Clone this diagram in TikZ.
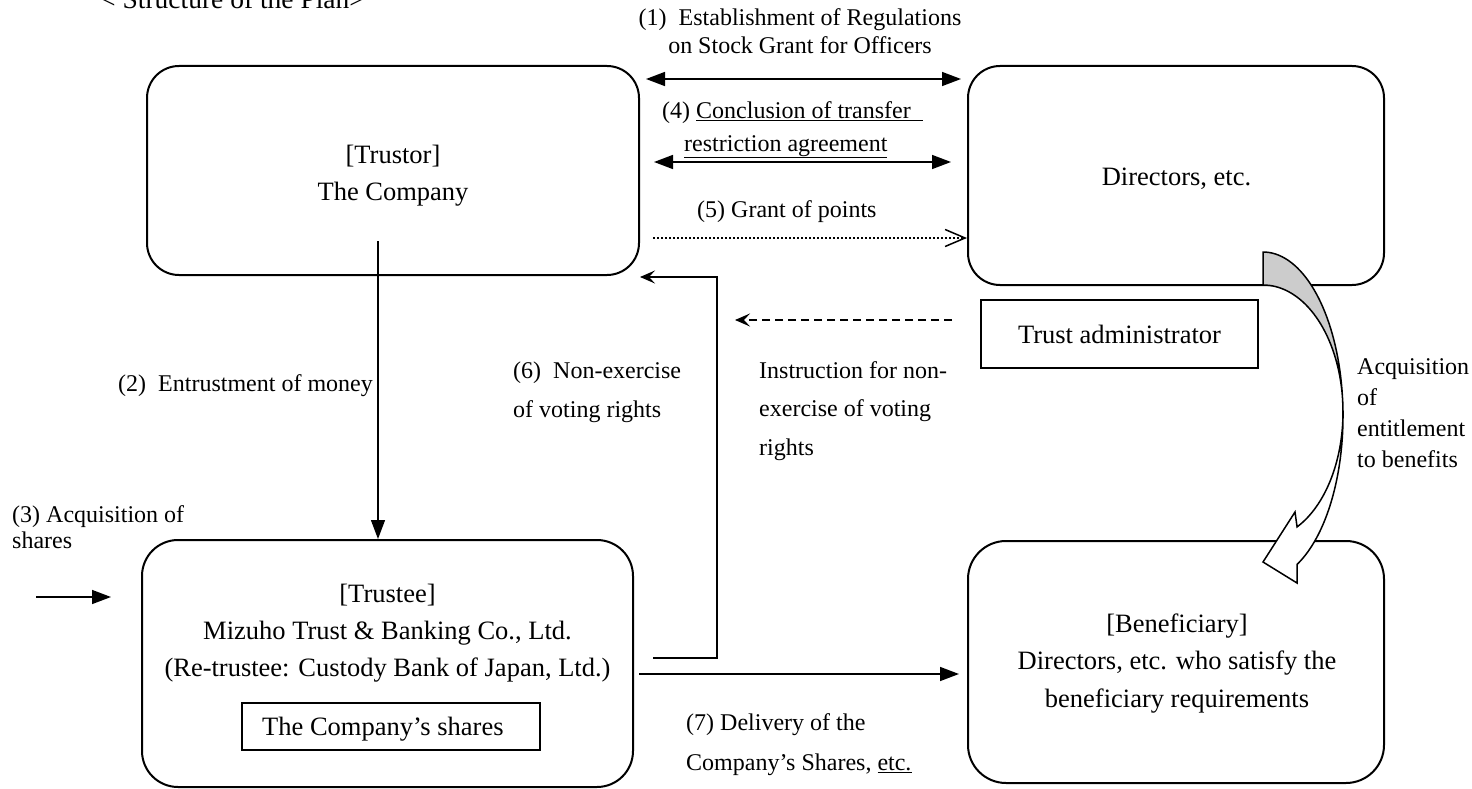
\documentclass[tikz,border=0pt]{standalone}
\usepackage{fontspec}
\setmainfont{Liberation Serif}
\usetikzlibrary{arrows.meta}
\begin{document}
\begin{tikzpicture}[x=1pt,y=-1pt,
  rbox/.style={draw,line width=2pt,rounded corners=32pt,inner sep=0pt},
  sbox/.style={draw,line width=2pt,inner sep=0pt},
  btxt/.style={inner sep=0pt,anchor=base,align=center,font=\fontsize{26.5}{37}\selectfont},
  lbl/.style={inner sep=0pt,anchor=base west,align=left,font=\fontsize{24}{30}\selectfont},
  conn/.style={line width=1.5pt},
  fat/.style={-{Triangle[length=19pt,width=14pt]}},
  dfat/.style={{Triangle[length=19pt,width=14pt]}-{Triangle[length=19pt,width=14pt]}},
  stl/.style={-{Stealth[length=15pt,width=13pt,inset=6pt]}},
  barb/.style={-{Straight Barb[length=20pt,width=17pt]}},
  dots/.style={dash pattern=on 2pt off 2pt},
  dashes/.style={dash pattern=on 8pt off 5pt}
]
\useasboundingbox (0,0) rectangle (1472,789);
\clip (0,0) rectangle (1472,789);

% boxes
\node[rbox,minimum width=492pt,minimum height=209pt] (trustor) at (393,170.5) {};
\node[rbox,minimum width=416pt,minimum height=219pt] (directors) at (1176,175.5) {};
\node[rbox,rounded corners=36pt,minimum width=491pt,minimum height=247pt] (trustee) at (387.5,663.5) {};
\node[rbox,rounded corners=38pt,minimum width=416pt,minimum height=242pt] (benef) at (1176,662) {};
\node[sbox,minimum width=277pt,minimum height=68pt] (admin) at (1119.5,334) {};
\node[sbox,line width=1.5pt,minimum width=298pt,minimum height=47pt] (shares) at (391,726.5) {};

% box texts (base anchor = baseline of the last line)
\node[btxt] (trustortxt) at (393,200) {[Trustor]\\The Company};
\node[btxt] (dirtxt) at (1176.5,185) {Directors, etc.};
\node[btxt] (admintxt) at (1119.5,343) {Trust administrator};
\node[btxt] (trusteetxt) at (387.5,676) {[Trustee]\\Mizuho Trust \& Banking Co., Ltd.\\(Re-trustee: Custody Bank of Japan, Ltd.)};
\node[btxt,anchor=base west] (sharestxt) at (262,735) {The Company’s shares};
\node[btxt,font=\fontsize{26.5}{37.5}\selectfont] (beneftxt) at (1177,707) {[Beneficiary]\\Directors, etc. who satisfy the\\beneficiary requirements};

% labels
\node[inner sep=0pt,anchor=base west,font=\fontsize{27.5}{30}\selectfont] (title) at (100,9) {< Structure of the Plan>};
\node[inner sep=0pt,anchor=base,align=center,font=\fontsize{24}{28}\selectfont] (l1) at (800,54) {(1)\ \ Establishment of Regulations\\on Stock Grant for Officers};
\node[lbl] (l4a) at (662,119) {(4) \underline{Conclusion of transfer\hspace*{12pt}}};
\node[lbl] (l4b) at (684,151) {\underline{restriction agreement}};
\node[lbl] (l5) at (697,217) {(5) Grant of points};
\node[lbl] (l2) at (118,391) {(2)\ \ Entrustment of money};
\node[lbl,font=\fontsize{24}{39}\selectfont] (l6) at (513,417) {(6)\ \ Non-exercise\\of voting rights};
\node[lbl,font=\fontsize{24}{38.5}\selectfont] (linst) at (759,455) {Instruction for non-\\exercise of voting\\rights};
\node[lbl,font=\fontsize{24}{31}\selectfont] (lacq) at (1357,467) {Acquisition\\of\\entitlement\\to benefits};
\node[lbl,font=\fontsize{24}{26}\selectfont] (l3) at (12,548) {(3) Acquisition of\\shares};
\node[lbl,font=\fontsize{24}{40}\selectfont] (l7) at (686,770) {(7) Delivery of the\\Company’s Shares, \underline{etc.}};

% connectors
\draw[conn,dfat,shorten <=6pt,shorten >=6pt] (trustor.east |- 0,79) -- (directors.west |- 0,79);
\draw[conn,dfat,shorten <=14pt,shorten >=16pt] (trustor.east |- 0,162) -- (directors.west |- 0,162);
\draw[conn,dots,barb,shorten <=13pt] (trustor.east |- 0,238) -- (directors.west |- 0,238);
\coordinate (insttip) at (735,320);
\draw[conn,dashes,stl,shorten <=28pt] (admin.west |- 0,320) -- (insttip);
\coordinate (r6a) at (717,658);
\coordinate (r6b) at (717,277);
\draw[conn,stl,shorten <=19pt] (trustee.east |- 0,658) -- (r6a) -- (r6b) -- (trustor.east |- 0,277);
\coordinate (c2) at (378,241);
\draw[conn,line width=1.3pt,fat] (c2) -- (c2 |- trustee.north);
\coordinate (c3) at (36,597);
\draw[conn,fat,shorten >=30pt] (c3) -- (c3 -| trustee.west);
\draw[conn,fat,shorten <=5pt,shorten >=8pt] (trustee.east |- 0,674) -- (benef.west |- 0,674);

% curved block arrow
\filldraw[fill=black!20,line width=1.5pt,line join=round]
  plot[domain=-90:0,samples=40,variable=\t] ({1263+80*cos(\t)},{416+164*sin(\t)})
  -- plot[domain=0:-90,samples=40,variable=\t] ({1263+80*cos(\t)},{412+127*sin(\t)})
  -- cycle;
\filldraw[fill=white,line width=1.5pt,line join=miter]
  plot[domain=0:64.8,samples=40,variable=\t] ({1263+80*cos(\t)},{416+164*sin(\t)})
  -- (1297,583) -- (1263,562) -- (1295,512)
  -- plot[domain=64.8:0,samples=40,variable=\t] ({1263+80*cos(\t)},{412+127*sin(\t)})
  -- cycle;
\end{tikzpicture}
\end{document}
